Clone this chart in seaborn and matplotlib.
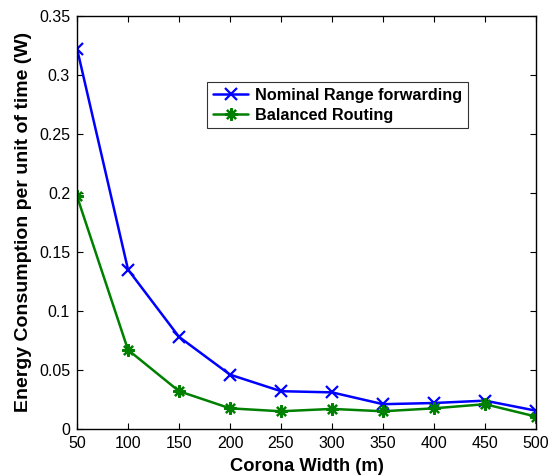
import matplotlib
matplotlib.use("Agg")
import matplotlib.pyplot as plt
import seaborn as sns
import pandas as pd

widths = [50, 100, 150, 200, 250, 300, 350, 400, 450, 500]
nominal = [0.322, 0.135, 0.078, 0.046, 0.032, 0.031, 0.021, 0.022, 0.024, 0.0155]
balanced = [0.197, 0.067, 0.032, 0.0175, 0.015, 0.017, 0.015, 0.0175, 0.021, 0.0105]
series_names = ["Nominal Range forwarding", "Balanced Routing"]

sns.set_style("white")
plt.rcParams['font.family'] = ['Liberation Sans', 'DejaVu Sans']
plt.rcParams['text.color'] = 'black'
plt.rcParams['axes.labelcolor'] = 'black'

df = pd.DataFrame({
    "width": widths * 2,
    "energy": nominal + balanced,
    "series": [series_names[0]] * len(widths) + [series_names[1]] * len(widths),
})

fig = plt.figure(figsize=(5.5, 4.75), dpi=100)
ax = fig.add_axes([77/550, 1 - 429/475, (536-77)/550, (429-15.5)/475])

palette = {series_names[0]: "#0000ff", series_names[1]: "#008000"}
markers = {series_names[0]: "x", series_names[1]: (8, 2, 0)}
sns.lineplot(data=df, x="width", y="energy", hue="series", style="series",
             palette=palette, markers=markers, dashes=False, ax=ax,
             linewidth=1.8, markersize=8, markeredgewidth=1.6)
for line in ax.lines:
    line.set_markeredgecolor(line.get_color())
    if line.get_color() == "#008000":
        line.set_markersize(9)

ax.set_xlim(50, 500)
ax.set_ylim(0, 0.35)
ax.set_xticks(widths)
ax.set_yticks([0, 0.05, 0.1, 0.15, 0.2, 0.25, 0.3, 0.35])
ax.set_yticklabels(["0", "0.05", "0.1", "0.15", "0.2", "0.25", "0.3", "0.35"])
ax.tick_params(direction="in", top=True, right=True, bottom=True, left=True,
               length=4, width=0.8, labelsize=11.5, colors="black", pad=5)
for s in ax.spines.values():
    s.set_color("black")
    s.set_linewidth(1.0)

ax.set_xlabel("Corona Width (m)", fontsize=13.2, fontweight="bold", labelpad=5)
ax.set_ylabel("Energy Consumption per unit of time (W)", fontsize=14,
              fontweight="bold", labelpad=5)

leg = ax.legend(loc="upper left", bbox_to_anchor=((207-77)/459, 1 - (82-15.5)/413.5),
                frameon=True, fancybox=False, edgecolor="black",
                prop={"weight": "bold", "size": 11.7}, handlelength=2.2,
                borderpad=0.35, labelspacing=0.3, handletextpad=0.4,
                borderaxespad=0)
leg.get_frame().set_linewidth(0.8)

fig.savefig("out.png", dpi=100)
